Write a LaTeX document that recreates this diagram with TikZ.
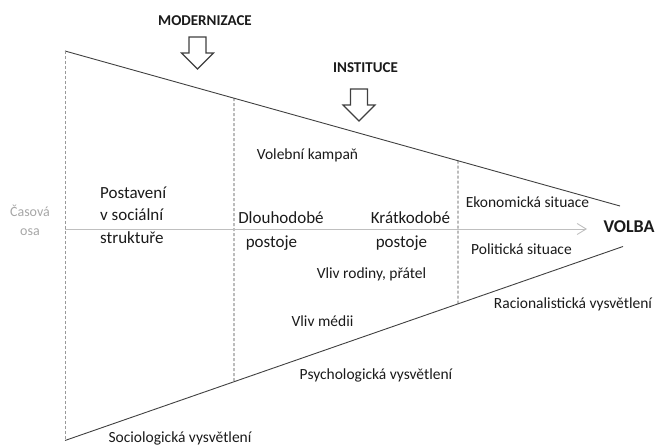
\documentclass[tikz,border=0pt]{standalone}
\usepackage{fontspec}
\setmainfont{Carlito}
\usetikzlibrary{arrows.meta}
\definecolor{txt}{HTML}{1A1A1A}
\definecolor{axisgray}{HTML}{BFBFBF}
\definecolor{lightlabel}{HTML}{A6A6A6}
\definecolor{edge}{HTML}{404040}
\tikzset{
  mainlbl/.style={font=\fontsize{17}{22.5}\selectfont, text=txt, inner sep=0pt, anchor=base},
  sublbl/.style={font=\fontsize{15.5}{19}\selectfont, text=txt, inner sep=0pt, anchor=base},
  boldlbl/.style={font=\fontsize{15}{18}\selectfont\bfseries, text=txt, inner sep=0pt, anchor=base},
  axislbl/.style={font=\fontsize{14}{18}\selectfont, text=lightlabel, inner sep=0pt, anchor=base},
  funnel/.style={draw=edge, line width=0.9pt},
  divider/.style={draw=edge, line width=0.8pt, dash pattern=on 3pt off 2pt},
  leftdivider/.style={draw=gray!80, line width=0.9pt, dash pattern=on 3pt off 2pt},
  timeaxis/.style={draw=axisgray, line width=0.9pt, -{Straight Barb[length=9pt,width=11pt]}},
  blockarrow/.pic={\draw[draw=edge, line width=1.1pt, fill=white, line join=miter]
     (-8.5,0) -- (8.5,0) -- (8.5,16) -- (16,16) -- (0,32) -- (-16,16) -- (-8.5,16) -- cycle;}
}
\begin{document}
\begin{tikzpicture}[x=1pt,y=-1pt]
\useasboundingbox (0,0) rectangle (657,446);
% funnel corners
\coordinate (TL) at (65,51);
\coordinate (TR) at (620,206);
\coordinate (BL) at (65,440.5);
\coordinate (BR) at (623,246.5);
\coordinate (d1t) at (intersection of TL--TR and 234,0--234,10);
\coordinate (d1b) at (intersection of BL--BR and 234,0--234,10);
\coordinate (d2t) at (intersection of TL--TR and 458,0--458,10);
\coordinate (d2b) at (intersection of BL--BR and 458,0--458,10);
\coordinate (axS) at (65,229);
\coordinate (axE) at (587,229);

\draw[funnel] (TL) -- (TR);
\draw[funnel] (BL) -- (BR);
\draw[leftdivider] (TL) -- (BL);
\draw[divider] (d1t) -- (d1b);
\draw[divider] (d2t) -- (d2b);
\draw[timeaxis] (axS) -- (axE);

% block arrows
\pic at (197.5,37) {blockarrow};
\pic at (359,89) {blockarrow};

% labels
\node[boldlbl] (modern) at (205,25.7) {MODERNIZACE};
\node[boldlbl] (inst) at (365.5,72.7) {INSTITUCE};
\node[boldlbl, font=\fontsize{18}{20}\selectfont\bfseries] (volba) at (629,232.7) {VOLBA};

\node[axislbl] (cas1) at (30,216.5) {Časová};
\node[axislbl] (cas2) at (30,235.5) {osa};

\node[mainlbl, anchor=base west] (post1) at (100,198.5) {Postavení};
\node[mainlbl, anchor=base west] (post2) at (100,220.5) {v sociální};
\node[mainlbl, anchor=base west] (post3) at (100,243.5) {struktuře};

\node[mainlbl] (dlouho) at (281,223.5) {Dlouhodobé};
\node[mainlbl] (dpost) at (271.5,247.5) {postoje};
\node[mainlbl] (kratko) at (410.5,223.5) {Krátkodobé};
\node[mainlbl] (kpost) at (401.5,247.5) {postoje};

\node[sublbl] (kampan) at (307.5,159.5) {Volební kampaň};
\node[sublbl] (rodina) at (371.5,278.5) {Vliv rodiny, přátel};
\node[sublbl] (media) at (322.5,326.5) {Vliv médii};
\node[sublbl] (ekon) at (527.5,207.5) {Ekonomická situace};
\node[sublbl] (polit) at (521.5,254.5) {Politická situace};
\node[sublbl] (racio) at (573,308.5) {Racionalistická vysvětlení};
\node[sublbl] (psych) at (376,379.5) {Psychologická vysvětlení};
\node[sublbl] (socio) at (180,443) {Sociologická vysvětlení};
\end{tikzpicture}
\end{document}
